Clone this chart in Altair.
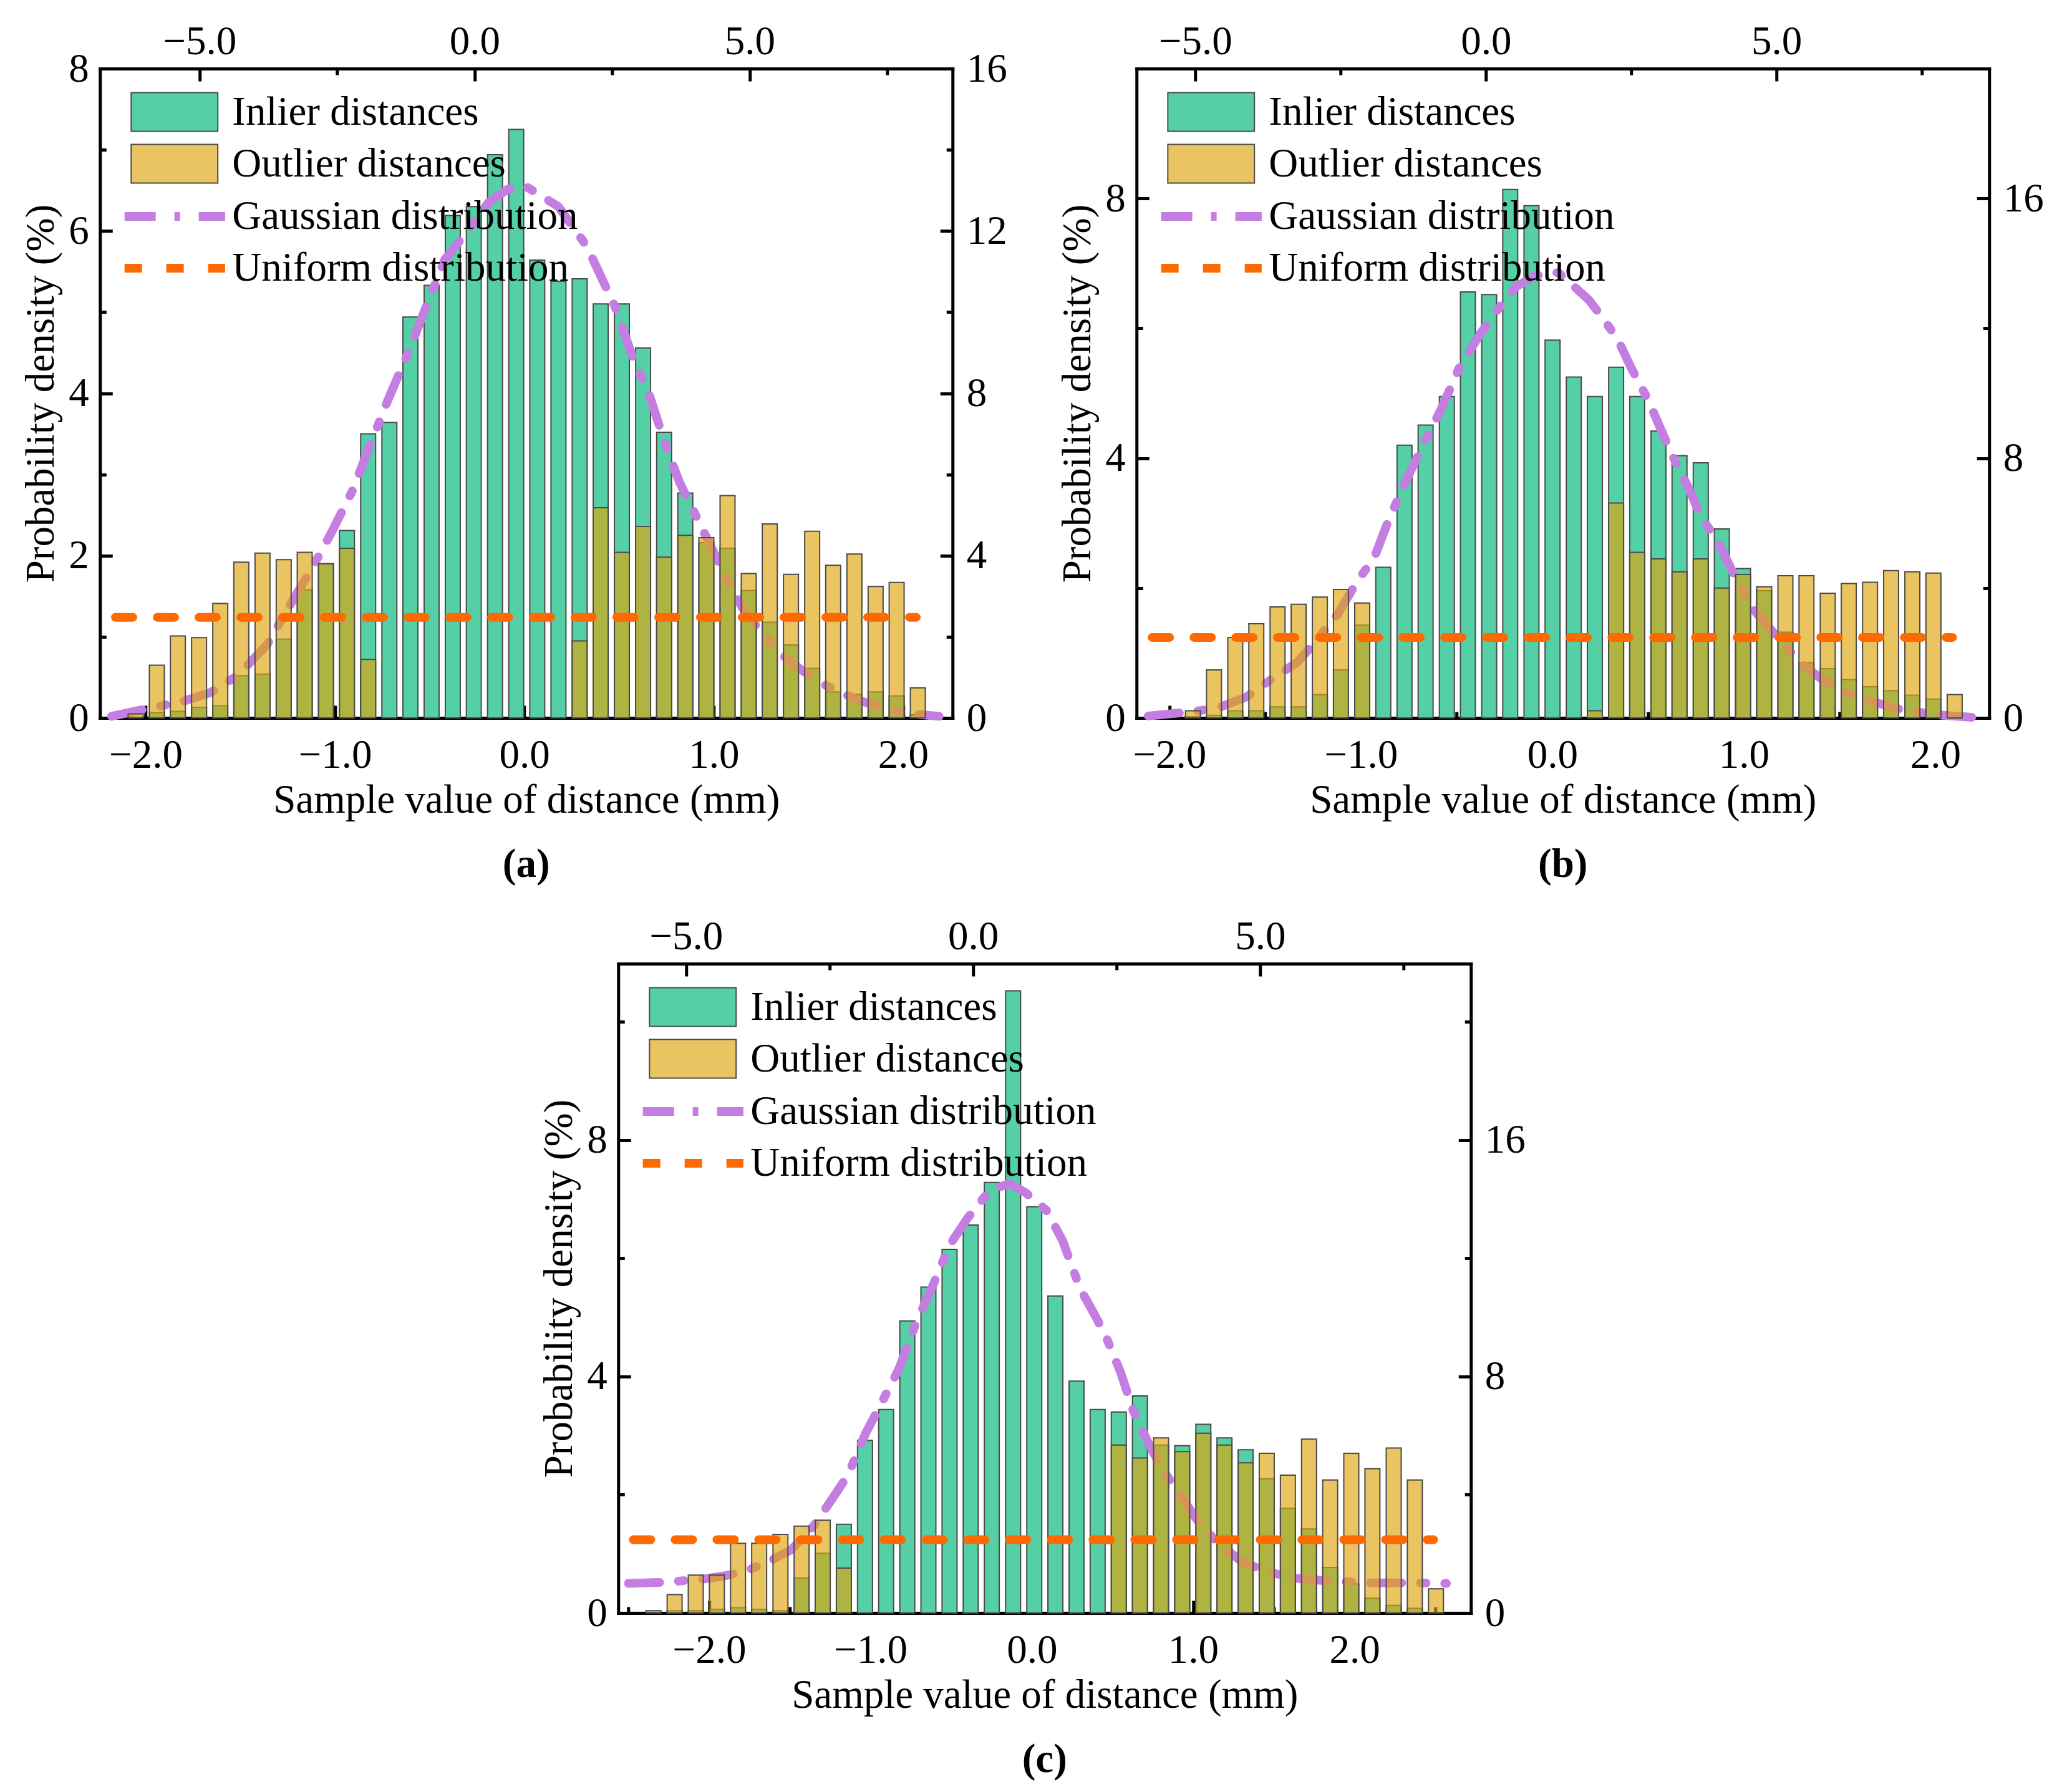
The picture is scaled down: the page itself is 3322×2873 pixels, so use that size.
import altair as alt
import pandas as pd

FONT = "Liberation Serif"
GREEN = "#55CFA5"
YELLOW = "rgba(223,164,10,0.65)"
PURPLE = "#C47DE0"
ORANGE = "#FF6A00"
EDGE = "#4a4a4a"

BAR_NAMES = ["Inlier distances", "Outlier distances"]
LINE_NAMES = ["Gaussian distribution", "Uniform distribution"]

# ---- panel (a) ----
a_centers = [-2.053, -1.941, -1.830, -1.718, -1.606, -1.495, -1.383, -1.271, -1.160, -1.048,
             -0.937, -0.825, -0.713, -0.602, -0.490, -0.378, -0.267, -0.155, -0.043, 0.068,
             0.180, 0.292, 0.403, 0.515, 0.627, 0.738, 0.850, 0.961, 1.073, 1.185,
             1.296, 1.408, 1.520, 1.631, 1.743, 1.855, 1.966, 2.078]
a_inlier = [0.0, 0.065, 0.08, 0.13, 0.15, 0.52, 0.54, 0.97, 1.58, 1.90,
            2.31, 3.50, 3.64, 4.94, 5.33, 6.19, 6.30, 6.94, 7.25, 5.64,
            5.38, 5.41, 5.10, 5.10, 4.56, 3.52, 2.77, 2.16, 2.09, 1.57,
            1.18, 0.90, 0.61, 0.32, 0.29, 0.32, 0.27, 0.04]
a_outlier = [0.05, 0.65, 1.01, 0.99, 1.41, 1.92, 2.03, 1.95, 2.04, 1.90,
             2.09, 0.72, 0.0, 0.0, 0.0, 0.0, 0.0, 0.0, 0.0, 0.0,
             0.0, 0.95, 2.59, 2.04, 2.36, 1.98, 2.25, 2.22, 2.74, 1.78,
             2.39, 1.77, 2.30, 1.88, 2.02, 1.62, 1.67, 0.37]
a_gauss_x = [-2.18, -2.0, -1.81, -1.66, -1.51, -1.36, -1.21, -1.12, -1.02, -0.91,
             -0.82, -0.72, -0.61, -0.52, -0.42, -0.31, -0.19, -0.09, 0.0, 0.18,
             0.33, 0.48, 0.57, 0.66, 0.75, 0.82, 0.90, 0.99, 1.08, 1.17,
             1.29, 1.38, 1.47, 1.60, 1.75, 1.90, 2.05, 2.19]
a_gauss_y = [0.02, 0.11, 0.20, 0.31, 0.53, 0.90, 1.50, 1.85, 2.28, 2.79,
             3.33, 3.92, 4.52, 5.06, 5.65, 5.97, 6.35, 6.51, 6.56, 6.30,
             5.81, 5.06, 4.46, 3.98, 3.33, 2.90, 2.52, 2.09, 1.66, 1.28,
             0.96, 0.74, 0.58, 0.39, 0.23, 0.12, 0.05, 0.02]
a_uni_x = [-2.16, 2.07]
a_uni_y = [1.24, 1.24]

# ---- panel (b) ----
b_centers = [-1.877, -1.767, -1.656, -1.546, -1.435, -1.325, -1.214, -1.104, -0.993, -0.883,
             -0.772, -0.662, -0.551, -0.441, -0.330, -0.220, -0.109, 0.001, 0.112, 0.222,
             0.333, 0.443, 0.554, 0.664, 0.775, 0.885, 0.996, 1.106, 1.217, 1.327,
             1.438, 1.548, 1.659, 1.769, 1.880, 1.990, 2.101]
b_inlier = [0.02, 0.04, 0.11, 0.11, 0.17, 0.17, 0.36, 0.74, 1.43, 2.32,
            4.20, 4.51, 4.95, 6.56, 6.52, 8.14, 7.89, 5.82, 5.25, 4.95,
            5.40, 4.95, 4.42, 4.04, 3.93, 2.91, 2.30, 1.96, 1.32, 0.85,
            0.76, 0.59, 0.48, 0.42, 0.35, 0.29, 0.0]
b_outlier = [0.11, 0.74, 1.24, 1.45, 1.71, 1.75, 1.86, 1.98, 1.77, 0.0,
             0.0, 0.0, 0.0, 0.0, 0.0, 0.0, 0.0, 0.0, 0.0, 0.11,
             3.31, 2.55, 2.45, 2.25, 2.45, 2.00, 2.21, 2.02, 2.19, 2.19,
             1.92, 2.07, 2.09, 2.27, 2.25, 2.23, 0.36]
b_gauss_x = [-2.11, -1.90, -1.75, -1.60, -1.45, -1.33, -1.23, -1.12, -1.02, -0.93,
             -0.86, -0.77, -0.66, -0.58, -0.49, -0.38, -0.28, -0.19, -0.09, 0.03,
             0.10, 0.19, 0.25, 0.34, 0.41, 0.50, 0.56, 0.63, 0.71, 0.78,
             0.86, 0.96, 1.05, 1.17, 1.29, 1.41, 1.53, 1.66, 1.82, 2.00, 2.19]
b_gauss_y = [0.03, 0.09, 0.15, 0.32, 0.63, 0.86, 1.20, 1.60, 2.10, 2.47,
             3.01, 3.62, 4.29, 4.76, 5.37, 5.90, 6.31, 6.64, 6.81, 6.86,
             6.68, 6.44, 6.21, 5.84, 5.40, 4.90, 4.49, 4.02, 3.55, 3.08,
             2.74, 2.14, 1.67, 1.26, 0.86, 0.59, 0.39, 0.26, 0.13, 0.05, 0.01]
b_uni_x = [-2.09, 2.09]
b_uni_y = [1.24, 1.24]

# ---- panel (c) ----
c_centers = [-2.345, -2.214, -2.083, -1.952, -1.821, -1.690, -1.558, -1.427, -1.296, -1.165,
             -1.034, -0.903, -0.772, -0.641, -0.510, -0.379, -0.248, -0.116, 0.015, 0.146,
             0.277, 0.408, 0.539, 0.670, 0.801, 0.932, 1.063, 1.194, 1.325, 1.456,
             1.587, 1.718, 1.849, 1.980, 2.111, 2.243, 2.374, 2.505]
c_inlier = [0.0, 0.04, 0.04, 0.06, 0.09, 0.06, 0.04, 0.59, 1.01, 1.50,
            2.92, 3.44, 4.94, 5.51, 6.15, 6.56, 7.28, 10.52, 6.87, 5.36,
            3.92, 3.44, 3.40, 3.67, 2.84, 2.83, 3.19, 2.96, 2.76, 2.27,
            1.77, 1.42, 0.77, 0.49, 0.25, 0.13, 0.08, 0.0]
c_outlier = [0.04, 0.31, 0.64, 0.64, 1.18, 1.18, 1.33, 1.47, 1.57, 0.76,
             0.0, 0.0, 0.0, 0.0, 0.0, 0.0, 0.0, 0.0, 0.0, 0.0,
             0.0, 0.0, 2.84, 2.62, 2.96, 2.73, 3.04, 2.84, 2.54, 2.70,
             2.33, 2.94, 2.25, 2.70, 2.44, 2.79, 2.25, 0.41]
c_gauss_x = [-2.50, -2.27, -2.02, -1.90, -1.78, -1.63, -1.49, -1.35, -1.23, -1.14,
             -1.03, -0.93, -0.82, -0.72, -0.61, -0.51, -0.40, -0.26, -0.14, -0.04,
             0.09, 0.19, 0.30, 0.39, 0.46, 0.55, 0.63, 0.72, 0.79, 0.90,
             1.02, 1.15, 1.30, 1.46, 1.62, 1.85, 2.12, 2.38, 2.57]
c_gauss_y = [0.50, 0.52, 0.58, 0.63, 0.70, 0.87, 1.07, 1.48, 1.96, 2.33,
             3.04, 3.56, 4.15, 4.89, 5.56, 6.22, 6.67, 7.15, 7.26, 7.11,
             6.81, 6.30, 5.48, 5.04, 4.67, 4.07, 3.41, 2.89, 2.52, 2.07,
             1.59, 1.19, 0.87, 0.70, 0.59, 0.54, 0.51, 0.51, 0.50]
c_uni_x = [-2.47, 2.49]
c_uni_y = [1.24, 1.24]

W, H = 1367, 1041
MAJOR, MINOR = 20, 10


def tick_axis(orient, values, size):
    # ticks only, pushed inside the frame
    return alt.Axis(orient=orient, values=values, labels=False, domain=False,
                    tickSize=size, offset=-size, title=None)


def make_panel(tag, centers, inlier, outlier, gx, gy, ux, uy,
               x_dom, y_dom, t_dom, r_dom,
               x_maj, x_min, y_maj, y_min, t_maj, t_min, r_maj, r_min):
    xs = alt.Scale(domain=x_dom, nice=False, zero=False)
    ys = alt.Scale(domain=y_dom, nice=False, zero=False)
    ts = alt.Scale(domain=t_dom, nice=False, zero=False)
    rs = alt.Scale(domain=r_dom, nice=False, zero=False)

    inl = pd.DataFrame({"x": centers, "v": inlier, "series": BAR_NAMES[0]})
    out = pd.DataFrame({"x": centers, "v": outlier, "series": BAR_NAMES[1]})
    gau = pd.DataFrame({"x": gx, "v": gy, "series": LINE_NAMES[0]})
    uni = pd.DataFrame({"x": ux, "v": uy, "series": LINE_NAMES[1]})
    corners = pd.DataFrame({"t": t_dom, "r": r_dom})

    bar_legend = alt.Legend(title=None, orient="none", legendX=87, legendY=37,
                            symbolType="M-2.24,-1H2.24V1H-2.24Z", symbolSize=3844,
                            symbolStrokeColor=EDGE, symbolStrokeWidth=2,
                            labelOffset=60, rowPadding=12)
    line_legend = alt.Legend(title=None, orient="none", legendX=82, legendY=199,
                             symbolType="M-2.6,0H2.6", symbolSize=3844,
                             symbolStrokeWidth=14, labelOffset=54, rowPadding=12)
    fill = alt.Fill("series:N", scale=alt.Scale(domain=BAR_NAMES, range=[GREEN, YELLOW]),
                    legend=bar_legend)
    stroke = alt.Stroke("series:N", scale=alt.Scale(domain=LINE_NAMES, range=[PURPLE, ORANGE]),
                        legend=line_legend)
    dash = alt.StrokeDash("series:N",
                          scale=alt.Scale(domain=LINE_NAMES, range=[[50, 30, 9, 30], [28, 39]]),
                          legend=line_legend)

    inlier_bars = alt.Chart(inl).mark_bar(size=24, stroke=EDGE, strokeWidth=2).encode(
        x=alt.X("x:Q", scale=xs, axis=alt.Axis(
            orient="bottom", values=x_maj, format=".1f", ticks=False, tickSize=0, domain=True,
            labelPadding=28, labelFlush=False, title="Sample value of distance (mm)",
            titlePadding=8)),
        y=alt.Y("v:Q", scale=ys, axis=alt.Axis(
            orient="left", values=y_maj, format="d", ticks=False, tickSize=0, domain=True,
            labelPadding=18, title="Probability density (%)", titlePadding=10)),
        fill=fill,
    )
    gauss_line = alt.Chart(gau).mark_line(strokeWidth=14, strokeCap="round",
                                          strokeJoin="round").encode(
        x=alt.X("x:Q", scale=xs, axis=tick_axis("bottom", x_maj, MAJOR)),
        y=alt.Y("v:Q", scale=ys, axis=tick_axis("left", y_maj, MAJOR)),
        stroke=stroke, strokeDash=dash,
    )
    outlier_bars = alt.Chart(out).mark_bar(size=24, stroke=EDGE, strokeWidth=2).encode(
        x=alt.X("x:Q", scale=xs, axis=None),
        y=alt.Y("v:Q", scale=ys, axis=None),
        fill=fill,
    )
    uniform_line = alt.Chart(uni).mark_line(strokeWidth=14, strokeCap="round").encode(
        x=alt.X("x:Q", scale=xs, axis=tick_axis("bottom", x_min, MINOR)),
        y=alt.Y("v:Q", scale=ys, axis=tick_axis("left", y_min, MINOR)),
        stroke=stroke, strokeDash=dash,
    )
    inner = alt.layer(inlier_bars, gauss_line, outlier_bars, uniform_line).resolve_axis(
        x="independent", y="independent")

    base = alt.Chart(corners).mark_point(opacity=0)
    top_lab = base.encode(
        x=alt.X("t:Q", scale=ts, axis=alt.Axis(
            orient="top", values=t_maj, format=".1f", ticks=False, tickSize=0, domain=True,
            labelPadding=10, labelFlush=False, title=None)),
        y=alt.Y("r:Q", scale=rs, axis=alt.Axis(
            orient="right", values=r_maj, format="d", ticks=False, tickSize=0, domain=True,
            labelPadding=22, title=None)),
    )
    top_maj = base.encode(
        x=alt.X("t:Q", scale=ts, axis=tick_axis("top", t_maj, MAJOR)),
        y=alt.Y("r:Q", scale=rs, axis=tick_axis("right", r_maj, MAJOR)),
    )
    top_min = base.encode(
        x=alt.X("t:Q", scale=ts, axis=tick_axis("top", t_min, MINOR)),
        y=alt.Y("r:Q", scale=rs, axis=tick_axis("right", r_min, MINOR)),
    )
    outer_axes = alt.layer(top_lab, top_maj, top_min).resolve_axis(
        x="independent", y="independent")

    return alt.layer(inner, outer_axes).resolve_scale(
        x="independent", y="independent"
    ).properties(
        width=W, height=H,
        title=alt.TitleParams(tag, orient="bottom", font=FONT, fontSize=65,
                              fontWeight="bold", color="black", offset=40),
    )


pa = make_panel("(a)", a_centers, a_inlier, a_outlier, a_gauss_x, a_gauss_y, a_uni_x, a_uni_y,
                [-2.225, 2.245], [0, 8], [-6.81, 8.69], [0, 16],
                [-2, -1, 0, 1, 2], [-1.5, -0.5, 0.5, 1.5], [0, 2, 4, 6, 8], [1, 3, 5, 7],
                [-5, 0, 5], [-2.5, 2.5, 7.5], [0, 4, 8, 12, 16], [2, 6, 10, 14])
pb = make_panel("(b)", b_centers, b_inlier, b_outlier, b_gauss_x, b_gauss_y, b_uni_x, b_uni_y,
                [-2.155, 2.265], [0, 10], [-6.01, 8.66], [0, 20],
                [-2, -1, 0, 1, 2], [-1.5, -0.5, 0.5, 1.5], [0, 4, 8], [2, 6],
                [-5, 0, 5], [-2.5, 2.5, 7.5], [0, 8, 16], [4, 12])
pc = make_panel("(c)", c_centers, c_inlier, c_outlier, c_gauss_x, c_gauss_y, c_uni_x, c_uni_y,
                [-2.544, 2.702], [0, 10.98], [-6.18, 8.67], [0, 21.96],
                [-2, -1, 0, 1, 2], [-2.5, -1.5, -0.5, 0.5, 1.5, 2.5], [0, 4, 8], [2, 6, 10],
                [-5, 0, 5], [-2.5, 2.5, 7.5], [0, 8, 16], [4, 12, 20])

indep = dict(x="independent", y="independent", fill="independent",
             stroke="independent", strokeDash="independent")
legend_indep = dict(fill="independent", stroke="independent", strokeDash="independent")

top_row = alt.hconcat(pa, pb, spacing=80).resolve_scale(**indep).resolve_legend(**legend_indep)

chart = alt.vconcat(top_row, pc, spacing=48, center=True).resolve_scale(
    **indep
).resolve_legend(
    **legend_indep
).configure_view(
    stroke="transparent"
).configure_axis(
    labelFont=FONT, labelFontSize=65, labelColor="black",
    titleFont=FONT, titleFontSize=65, titleFontWeight="normal", titleColor="black",
    tickColor="black", tickWidth=5, domainColor="black", domainWidth=5,
    domainCap="square", grid=False, labelOverlap=False, zindex=1,
).configure_legend(
    labelFont=FONT, labelFontSize=65, labelColor="black", labelLimit=0, padding=0,
).properties(
    padding={"left": 25, "top": 25, "right": 5, "bottom": 5}
)

chart.save("out.html", embed_options={"renderer": "svg", "actions": False})
